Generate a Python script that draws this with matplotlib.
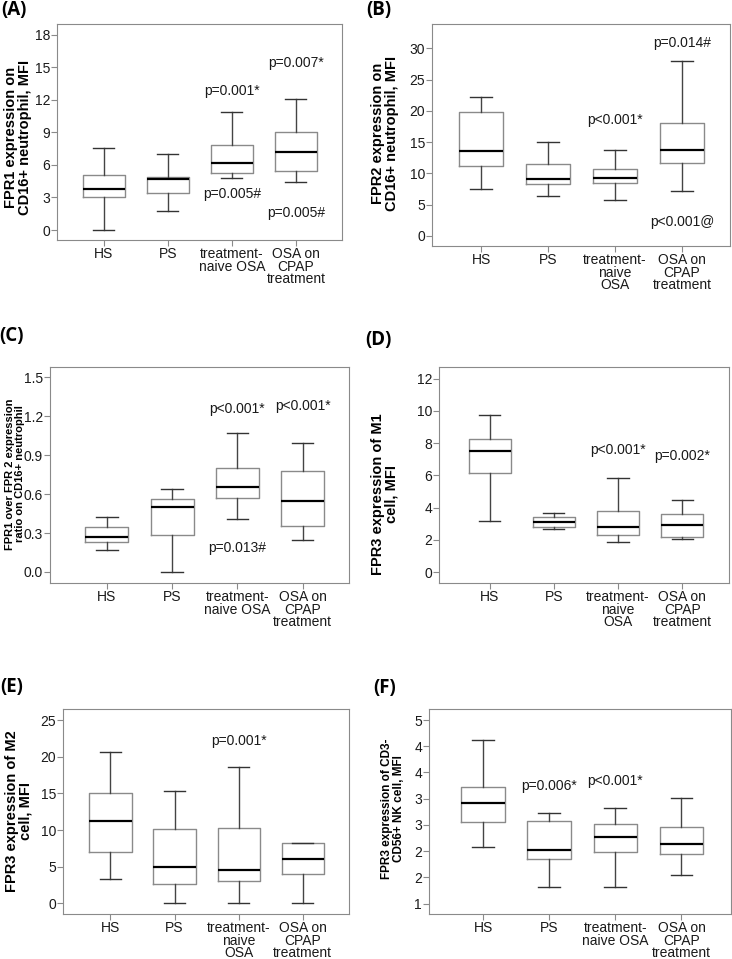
import matplotlib.pyplot as plt

plt.rcParams['font.family'] = ['Liberation Sans', 'DejaVu Sans']

W, H = 732, 959

groups_a = ['HS', 'PS', 'treatment-\nnaive OSA', 'OSA on\nCPAP\ntreatment']
groups_b = ['HS', 'PS', 'treatment-\nnaive\nOSA', 'OSA on\nCPAP\ntreatment']

# each group: low whisker, Q1, median, Q3, high whisker
fpr1_neut = [[0.0, 3.0, 3.75, 5.08, 7.54],
             [1.8, 3.45, 4.7, 4.86, 7.0],
             [4.83, 5.3, 6.18, 7.8, 10.86],
             [4.4, 5.45, 7.2, 9.0, 12.06]]
fpr2_neut = [[7.46, 11.13, 13.59, 19.77, 22.27],
             [6.45, 8.26, 9.16, 11.56, 14.97],
             [5.81, 8.52, 9.27, 10.66, 13.69],
             [7.14, 11.61, 13.69, 18.11, 27.97]]
ratio_neut = [[0.167, 0.231, 0.269, 0.346, 0.423],
              [0.0, 0.287, 0.497, 0.559, 0.641],
              [0.405, 0.569, 0.654, 0.805, 1.074],
              [0.249, 0.356, 0.544, 0.782, 0.997]]
fpr3_m1 = [[3.15, 6.16, 7.53, 8.23, 9.77],
           [2.70, 2.82, 3.09, 3.44, 3.69],
           [1.84, 2.29, 2.82, 3.77, 5.81],
           [2.08, 2.19, 2.89, 3.61, 4.45]]
fpr3_m2 = [[3.36, 6.95, 11.2, 15.1, 20.6],
           [0.0, 2.59, 5.0, 10.18, 15.27],
           [0.0, 3.0, 4.55, 10.23, 18.6],
           [0.0, 3.95, 6.0, 8.23, 8.23]]
fpr3_nk = [[2.08, 2.55, 2.91, 3.22, 4.11],
           [1.32, 1.85, 2.02, 2.57, 2.72],
           [1.32, 1.98, 2.26, 2.51, 2.83],
           [1.55, 1.95, 2.13, 2.45, 3.02]]

# p-value annotations: (group index, y, text)
notes_a = [(2, 12.8, 'p=0.001*'), (2, 3.3, 'p=0.005#'), (3, 15.4, 'p=0.007*'), (3, 1.6, 'p=0.005#')]
notes_b = [(2, 18.6, 'p<0.001*'), (3, 30.8, 'p=0.014#'), (3, 2.3, 'p<0.001@')]
notes_c = [(2, 1.254, 'p<0.001*'), (3, 1.28, 'p<0.001*'), (2, 0.185, 'p=0.013#')]
notes_d = [(2, 7.57, 'p<0.001*'), (3, 7.2, 'p=0.002*')]
notes_e = [(2, 22.1, 'p=0.001*')]
notes_f = [(1, 3.25, 'p=0.006*'), (2, 3.33, 'p<0.001*')]

yticks_f = [1.0, 1.5, 2.0, 2.5, 3.0, 3.5, 4.0, 4.5]
yticklabels_f = ['1', '2', '2', '3', '3', '4', '4', '5']

fig = plt.figure(figsize=(W / 100, H / 100), dpi=100)


def panel(box, stats, groups, notes, ylim, xlim, yticks, ylab, lab_xy, lab_fs,
          tag, tag_xy, yticklabels=None):
    l, r, t, b = box
    ax = fig.add_axes([l / W, 1 - b / H, (r - l) / W, (b - t) / H])
    bx = [dict(whislo=s[0], q1=s[1], med=s[2], q3=s[3], whishi=s[4], fliers=[])
          for s in stats]
    ax.bxp(bx, positions=range(len(bx)), widths=0.66, capwidths=0.33,
           boxprops=dict(color='#8a8a8a', lw=1.0),
           whiskerprops=dict(color='#444444', lw=1.0),
           capprops=dict(color='#333333', lw=1.0),
           medianprops=dict(color='black', lw=1.6))
    ax.set_xlim(*xlim)
    ax.set_ylim(*ylim)
    ax.set_yticks(yticks)
    if yticklabels is not None:
        ax.set_yticklabels(yticklabels)
    ax.set_xticks(range(len(groups)))
    ax.set_xticklabels(groups, linespacing=0.88)
    for sp in ax.spines.values():
        sp.set_color('#8a8a8a')
    ax.tick_params(axis='both', colors='#8a8a8a', labelcolor='#1a1a1a',
                   labelsize=10, length=4, width=0.8)
    ax.tick_params(axis='y', pad=1)
    ax.tick_params(axis='x', pad=1)
    for g, y, txt in notes:
        ax.text(g, y, txt, ha='center', va='center', fontsize=10, color='#1a1a1a')
    fig.text(lab_xy[0] / W, 1 - lab_xy[1] / H, ylab, rotation=90, ha='center',
             va='center', fontsize=lab_fs, fontweight='bold', linespacing=1.0)
    fig.text(tag_xy[0] / W, 1 - tag_xy[1] / H, tag, ha='center', va='center',
             fontsize=13.5, fontweight='bold', family=['Open Sans', 'DejaVu Sans'])
    return ax


panel((57, 342, 24, 240), fpr1_neut, groups_a, notes_a, (-0.92, 19.0), (-0.73, 3.72),
      [0, 3, 6, 9, 12, 15, 18], 'FPR1 expression on\nCD16+ neutrophil, MFI',
      (18, 137), 10.5, '(A)', (14, 10))
panel((432, 730, 24, 246), fpr2_neut, groups_b, notes_b, (-1.6, 33.9), (-0.74, 3.72),
      [0, 5, 10, 15, 20, 25, 30], 'FPR2 expression on\nCD16+ neutrophil, MFI',
      (385, 133), 10.5, '(B)', (379, 10))
panel((50, 349, 367, 583), ratio_neut, groups_a, notes_c, (-0.085, 1.58), (-0.87, 3.71),
      [0.0, 0.3, 0.6, 0.9, 1.2, 1.5], 'FPR1 over FPR 2 expression\nratio on CD16+ neutrophil',
      (15, 474), 8, '(C)', (12, 336))
panel((439, 729, 367, 583), fpr3_m1, groups_b, notes_d, (-0.68, 12.72), (-0.79, 3.73),
      [0, 2, 4, 6, 8, 10, 12], 'FPR3 expression of M1\ncell, MFI',
      (385, 494), 10.5, '(D)', (378, 340))
panel((63, 349, 709, 914), fpr3_m2, groups_b, notes_e, (-1.45, 26.5), (-0.74, 3.72),
      [0, 5, 10, 15, 20, 25], 'FPR3 expression of M2\ncell, MFI',
      (19, 811), 10.5, '(E)', (12, 687))
panel((429, 731, 709, 914), fpr3_nk, groups_a, notes_f, (0.80, 4.71), (-0.82, 3.75),
      yticks_f, 'FPR3 expression of CD3-\nCD56+ NK cell, MFI',
      (393, 809), 8.5, '(F)', (385, 688), yticklabels=yticklabels_f)

fig.savefig('out.png', dpi=100)
